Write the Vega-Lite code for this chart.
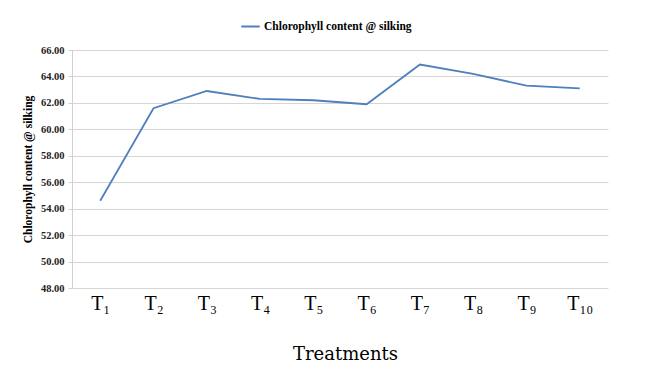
{
  "$schema": "https://vega.github.io/schema/vega-lite/v6.json",
  "width": 536,
  "height": 238,
  "autosize": {"type": "none"},
  "padding": {"left": 72, "top": 50, "right": 42, "bottom": 88},
  "background": "white",
  "data": {
    "values": [
      {"treatment": "T₁", "value": 54.6},
      {"treatment": "T₂", "value": 61.6},
      {"treatment": "T₃", "value": 62.9},
      {"treatment": "T₄", "value": 62.3},
      {"treatment": "T₅", "value": 62.2},
      {"treatment": "T₆", "value": 61.9},
      {"treatment": "T₇", "value": 64.9},
      {"treatment": "T₈", "value": 64.2},
      {"treatment": "T₉", "value": 63.3},
      {"treatment": "T₁₀", "value": 63.1}
    ]
  },
  "mark": {"type": "line", "strokeWidth": 1.8},
  "encoding": {
    "x": {
      "field": "treatment",
      "type": "ordinal",
      "sort": null,
      "scale": {"type": "point", "padding": 0.53},
      "axis": {
        "title": "Treatments",
        "titleFont": "DejaVu Serif",
        "titleFontSize": 18,
        "titleFontWeight": "normal",
        "titleColor": "#000",
        "titlePadding": 32,
        "titleX": 273,
        "labelFont": "Liberation Serif",
        "labelFontSize": 20,
        "labelColor": "#000",
        "labelAngle": 0,
        "labelPadding": 5,
        "domain": false,
        "ticks": false,
        "grid": false
      }
    },
    "y": {
      "field": "value",
      "type": "quantitative",
      "scale": {"domain": [48, 66], "nice": false, "zero": false},
      "axis": {
        "values": [48, 50, 52, 54, 56, 58, 60, 62, 64, 66],
        "format": ".2f",
        "title": "Chlorophyll content @ silking",
        "titleFont": "Liberation Serif",
        "titleFontSize": 11.5,
        "titleFontWeight": "bold",
        "titleColor": "#000",
        "titlePadding": 7,
        "labelFont": "Liberation Serif",
        "labelFontSize": 10.5,
        "labelFontWeight": "bold",
        "labelColor": "#222",
        "labelPadding": 4,
        "domain": true,
        "domainColor": "#d0d0d0",
        "ticks": true,
        "tickSize": 4,
        "tickColor": "#d0d0d0",
        "grid": true,
        "gridColor": "#d6d6d6",
        "gridWidth": 1
      }
    },
    "color": {
      "datum": "Chlorophyll content @ silking",
      "type": "nominal",
      "scale": {"range": ["#4f7fbd"]},
      "legend": {
        "title": null,
        "orient": "none",
        "legendX": 168,
        "legendY": -34,
        "symbolType": "stroke",
        "symbolSize": 340,
        "symbolStrokeWidth": 2,
        "labelOffset": 3,
        "labelFont": "Liberation Serif",
        "labelFontSize": 11.5,
        "labelFontWeight": "bold",
        "labelColor": "#000"
      }
    }
  },
  "config": {
    "view": {"stroke": null}
  }
}
